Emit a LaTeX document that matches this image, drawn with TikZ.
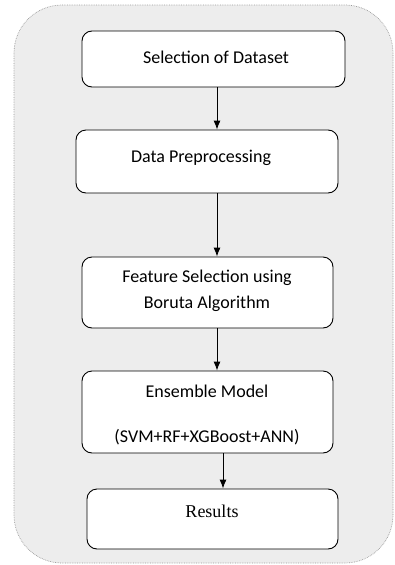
\documentclass[tikz,border=0pt]{standalone}
\usepackage{fontspec}
\setmainfont{Carlito}
\newfontfamily\timesfont{Liberation Serif}
\usetikzlibrary{arrows.meta}
\begin{document}
\begin{tikzpicture}[x=1pt,y=-1pt,
  box/.style={draw=black, line width=0.9pt, fill=white, rounded corners=10pt, inner sep=0pt},
  lbl/.style={font=\fontsize{18}{26}\selectfont, align=center, inner sep=0pt},
  arr/.style={-{Latex[length=9pt,width=7pt]}, line width=0.9pt}]
\useasboundingbox (0,0) rectangle (394,565);
\draw[draw=gray!80, densely dotted, line width=0.7pt, fill=black!7, rounded corners=48pt] (14,5) rectangle (393,563);
% boxes
\node[box, minimum width=263pt, minimum height=56pt] (b1) at (213.5,59) {};
\node[box, minimum width=262pt, minimum height=63pt] (b2) at (207,161.5) {};
\node[box, minimum width=251pt, minimum height=71pt] (b3) at (207.5,292.5) {};
\node[box, minimum width=251pt, minimum height=82pt] (b4) at (207.5,412) {};
\node[box, minimum width=251pt, minimum height=60pt] (b5) at (212.5,519) {};
% labels
\node[lbl] (t1) at (216,57) {Selection of Dataset};
\node[lbl] (t2) at (201,158) {Data Preprocessing};
\node[lbl] (t3) at (207,291) {Feature Selection using\\Boruta Algorithm};
\node[lbl] (t4) at (207,415) {Ensemble Model\\[19pt](SVM+RF+XGBoost+ANN)};
\node[lbl, font=\timesfont\fontsize{18}{22}\selectfont] (t5) at (212,511) {Results};
% arrows
\draw[arr] (b1.south -| 217,0) -- (b2.north -| 217,0);
\draw[arr] (b2.south -| 217,0) -- (b3.north -| 217,0);
\draw[arr] (b3.south -| 217,0) -- (b4.north -| 217,0);
\draw[arr] (b4.south -| 223,0) -- (b5.north -| 223,0);
\end{tikzpicture}
\end{document}
